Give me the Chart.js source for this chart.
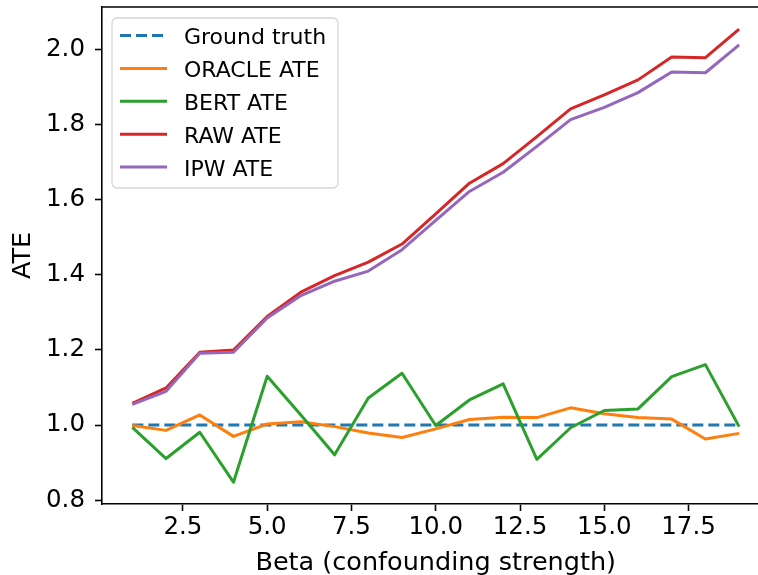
<!DOCTYPE html>
<html>
<head>
<meta charset="utf-8">
<script src="https://cdn.jsdelivr.net/npm/chart.js@4.4.1/dist/chart.umd.min.js"></script>
<style>
  html, body { margin: 0; padding: 0; background: #fff; overflow: hidden; }
  #wrap { width: 758px; height: 575px; }
  canvas { display: block; }
</style>
</head>
<body>
<div id="wrap"><canvas id="c" width="758" height="575"></canvas></div>
<script>
// ── data ──
const betas = [1, 2, 3, 4, 5, 6, 7, 8, 9, 10, 11, 12, 13, 14, 15, 16, 17, 18, 19];
const groundTruth = [1.0, 1.0, 1.0, 1.0, 1.0, 1.0, 1.0, 1.0, 1.0, 1.0, 1.0, 1.0, 1.0, 1.0, 1.0, 1.0, 1.0, 1.0, 1.0];
const oracleAte = [0.999, 0.986, 1.027, 0.970, 1.003, 1.009, 0.996, 0.979, 0.967, 0.990, 1.015, 1.021, 1.020, 1.046, 1.030, 1.020, 1.016, 0.963, 0.978];
const bertAte = [0.994, 0.911, 0.981, 0.848, 1.130, 1.027, 0.921, 1.072, 1.138, 0.999, 1.067, 1.110, 0.909, 0.993, 1.039, 1.043, 1.129, 1.161, 0.996];
const rawAte = [1.058, 1.099, 1.194, 1.200, 1.289, 1.354, 1.398, 1.434, 1.482, 1.562, 1.644, 1.696, 1.768, 1.842, 1.879, 1.919, 1.980, 1.978, 2.054];
const ipwAte = [1.055, 1.090, 1.191, 1.194, 1.285, 1.345, 1.383, 1.410, 1.467, 1.545, 1.622, 1.673, 1.742, 1.813, 1.846, 1.885, 1.940, 1.938, 2.012];

const xTicks = [2.5, 5.0, 7.5, 10.0, 12.5, 15.0, 17.5];
const yTicks = [0.8, 1.0, 1.2, 1.4, 1.6, 1.8, 2.0];
const X_TITLE = 'Beta (confounding strength)';

const FONT = "'DejaVu Sans', 'Liberation Sans', sans-serif";
Chart.defaults.font.family = FONT;
Chart.defaults.color = '#000';

const pts = arr => betas.map((b, i) => ({ x: b, y: arr[i] }));

function series(label, arr, color, dash) {
  return {
    label, data: pts(arr),
    borderColor: color, backgroundColor: color,
    borderWidth: 3, borderDash: dash || [],
    borderJoinStyle: 'round',
    pointRadius: 0, tension: 0, fill: false
  };
}

const datasets = [
  series('Ground truth', groundTruth, '#1f77b4', [11, 5]),
  series('ORACLE ATE', oracleAte, '#ff7f0e'),
  series('BERT ATE', bertAte, '#2ca02c'),
  series('RAW ATE', rawAte, '#d62728'),
  series('IPW ATE', ipwAte, '#9467bd'),
];
// matplotlib draws later lines on top
datasets.forEach((d, i) => { d.order = datasets.length - 1 - i; });

// ── top spine, x title, legend box ──
function roundRectPath(ctx, x, y, w, h, r) {
  ctx.beginPath();
  ctx.moveTo(x + r, y);
  ctx.lineTo(x + w - r, y); ctx.arcTo(x + w, y, x + w, y + r, r);
  ctx.lineTo(x + w, y + h - r); ctx.arcTo(x + w, y + h, x + w - r, y + h, r);
  ctx.lineTo(x + r, y + h); ctx.arcTo(x, y + h, x, y + h - r, r);
  ctx.lineTo(x, y + r); ctx.arcTo(x, y, x + r, y, r);
  ctx.closePath();
}

const framePlugin = {
  id: 'frame',
  afterDatasetsDraw(chart) {
    const { ctx, chartArea: a } = chart;
    const xs = chart.scales.x;
    ctx.save();
    ctx.strokeStyle = '#000';
    ctx.lineWidth = 1.6;
    ctx.beginPath();
    ctx.moveTo(a.left, a.top); ctx.lineTo(a.right, a.top);
    ctx.stroke();

    // x title centred on the full (0.1 .. 19.9) axes box, which runs past the canvas edge
    const cx = (xs.getPixelForValue(0.1) + xs.getPixelForValue(19.9)) / 2;
    ctx.font = '25.5px ' + FONT;
    ctx.fillStyle = '#000';
    ctx.textAlign = 'center';
    ctx.textBaseline = 'alphabetic';
    ctx.fillText(X_TITLE, cx, 569.5);

    // legend
    const lx = a.left + 10, ly = a.top + 11, lw = 226, lh = 170;
    roundRectPath(ctx, lx, ly, lw, lh, 5);
    ctx.fillStyle = 'rgba(255,255,255,0.8)';
    ctx.fill();
    ctx.strokeStyle = '#d6d6d6';
    ctx.lineWidth = 1.3;
    ctx.stroke();

    ctx.font = '22px ' + FONT;
    ctx.textAlign = 'left';
    chart.data.datasets.forEach((ds, i) => {
      const cy = a.top + 28.5 + i * 32.9;
      ctx.beginPath();
      ctx.setLineDash(ds.borderDash || []);
      ctx.strokeStyle = ds.borderColor;
      ctx.lineWidth = ds.borderWidth;
      ctx.moveTo(lx + 8, cy); ctx.lineTo(lx + 55, cy);
      ctx.stroke();
      ctx.setLineDash([]);
      ctx.fillStyle = '#000';
      ctx.fillText(ds.label, lx + 72, cy + 8.8);
    });
    ctx.restore();
  }
};

new Chart(document.getElementById('c'), {
  type: 'line',
  data: { datasets },
  plugins: [framePlugin],
  options: {
    responsive: false,
    devicePixelRatio: 1,
    animation: false,
    layout: { padding: { top: 7, right: 0, left: 0, bottom: 0 } },
    plugins: { legend: { display: false }, tooltip: { enabled: false } },
    scales: {
      x: {
        type: 'linear', min: 0.1, max: 19.56,
        afterBuildTicks: s => { s.ticks = xTicks.map(v => ({ value: v })); },
        afterFit: s => { s.height = 71; s.paddingLeft = 0; s.paddingRight = 0; },
        ticks: { font: { size: 24.5 }, color: '#000', padding: 2, maxRotation: 0, callback: v => v.toFixed(1) },
        grid: { drawOnChartArea: false, drawTicks: true, tickLength: 7, tickWidth: 1.6, tickColor: '#000' },
        border: { display: true, color: '#000', width: 1.6 },
        title: { display: false }
      },
      y: {
        type: 'linear', min: 0.79, max: 2.113,
        afterBuildTicks: s => { s.ticks = yTicks.map(v => ({ value: v })); },
        afterFit: s => { s.width = 102; s.paddingTop = 0; s.paddingBottom = 0; },
        ticks: { font: { size: 24.5 }, color: '#000', padding: 10, callback: v => v.toFixed(1) },
        grid: { drawOnChartArea: false, drawTicks: true, tickLength: 7, tickWidth: 1.6, tickColor: '#000' },
        border: { display: true, color: '#000', width: 1.6 },
        title: { display: true, text: 'ATE', font: { size: 25.5, lineHeight: 1.15 }, color: '#000', padding: { top: 9, bottom: 0 } }
      }
    }
  }
});
</script>
</body>
</html>
